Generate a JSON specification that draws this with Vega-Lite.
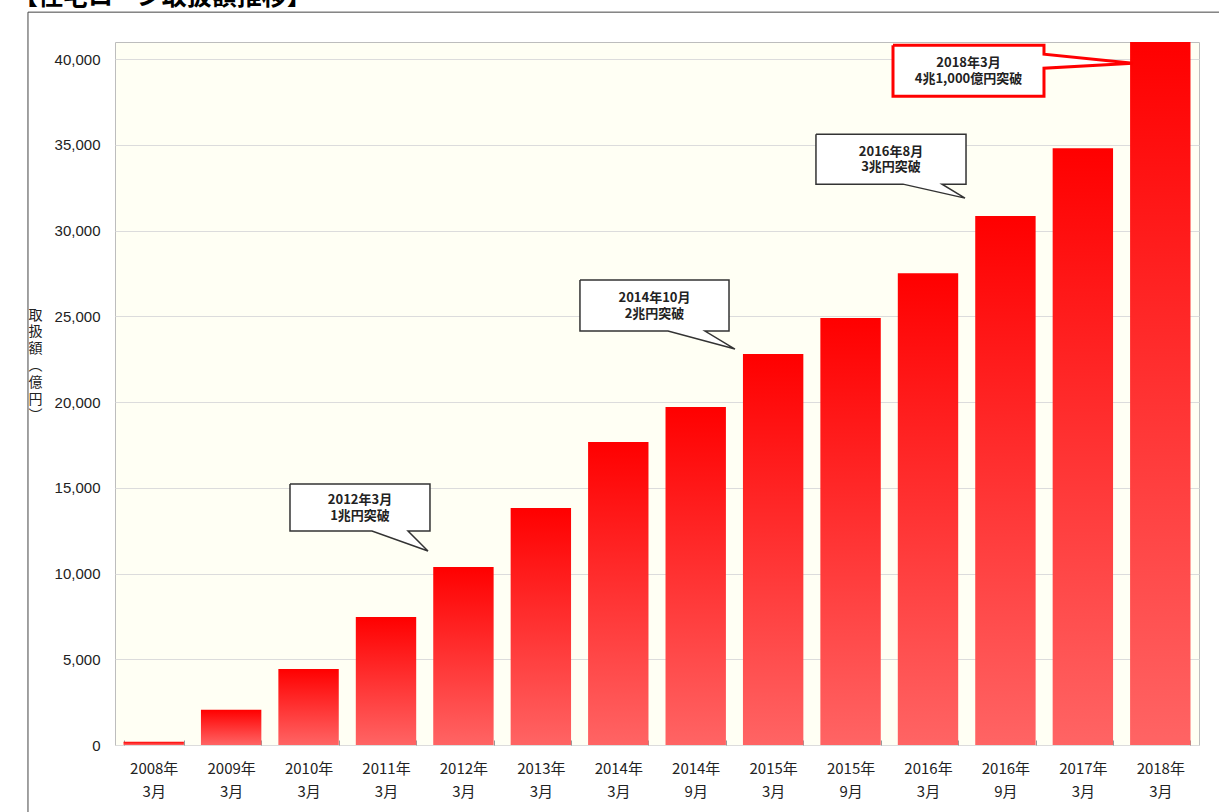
{
  "$schema": "https://vega.github.io/schema/vega-lite/v6.json",
  "width": 1084,
  "height": 703,
  "autosize": {"type": "none"},
  "padding": {"left": 115, "top": 42, "right": 20, "bottom": 67},
  "background": "#FFFFFF",
  "config": {
    "view": {"fill": "#FFFFF4", "stroke": "#BDBDBD", "strokeWidth": 1},
    "font": "Noto Sans CJK JP",
    "axisY": {
      "domain": false,
      "ticks": false,
      "grid": true,
      "gridColor": "#DCDCDC",
      "gridWidth": 1,
      "labelPadding": 15,
      "labelFontSize": 15,
      "labelFont": "Liberation Sans",
      "labelColor": "#222222",
      "labelExpr": "format(datum.value, ',')",
      "titleAngle": 0,
      "titleX": -80,
      "titleY": 266,
      "titleAlign": "center",
      "titleBaseline": "top",
      "titleFontSize": 14,
      "titleFontWeight": "normal",
      "titleLineHeight": 16.8,
      "titleColor": "#222222",
      "titleFont": "Noto Sans CJK JP"
    }
  },
  "datasets": {
    "bars": [
      {"period": "2008年3月", "value": 190},
      {"period": "2009年3月", "value": 2050},
      {"period": "2010年3月", "value": 4430},
      {"period": "2011年3月", "value": 7460},
      {"period": "2012年3月", "value": 10380},
      {"period": "2013年3月", "value": 13820},
      {"period": "2014年3月", "value": 17670},
      {"period": "2014年9月", "value": 19710},
      {"period": "2015年3月", "value": 22800},
      {"period": "2015年9月", "value": 24900},
      {"period": "2016年3月", "value": 27520},
      {"period": "2016年9月", "value": 30850},
      {"period": "2017年3月", "value": 34810},
      {"period": "2018年3月", "value": 41000}
    ],
    "frame": [
      {"x1": -1.124, "x2": 16, "y1": 42741, "y2": -10000}
    ],
    "heading": [
      {"x": -1.317, "y": 43149, "label": "【住宅ローン取扱額推移】"}
    ],
    "bubbles": [
      {"id": 1, "i": 0, "ax": 2.260, "ay": 15219},
      {"id": 1, "i": 1, "ax": 4.068, "ay": 15219},
      {"id": 1, "i": 2, "ax": 4.068, "ay": 12478},
      {"id": 1, "i": 3, "ax": 3.784, "ay": 12478},
      {"id": 1, "i": 4, "ax": 4.042, "ay": 11312},
      {"id": 1, "i": 5, "ax": 3.319, "ay": 12478},
      {"id": 1, "i": 6, "ax": 2.260, "ay": 12478},
      {"id": 1, "i": 7, "ax": 2.260, "ay": 15219},
      {"id": 2, "i": 0, "ax": 6.005, "ay": 27114},
      {"id": 2, "i": 1, "ax": 7.930, "ay": 27114},
      {"id": 2, "i": 2, "ax": 7.930, "ay": 24140},
      {"id": 2, "i": 3, "ax": 7.620, "ay": 24140},
      {"id": 2, "i": 4, "ax": 8.007, "ay": 23090},
      {"id": 2, "i": 5, "ax": 7.142, "ay": 24140},
      {"id": 2, "i": 6, "ax": 6.005, "ay": 24140},
      {"id": 2, "i": 7, "ax": 6.005, "ay": 27114},
      {"id": 3, "i": 0, "ax": 9.053, "ay": 35627},
      {"id": 3, "i": 1, "ax": 10.991, "ay": 35627},
      {"id": 3, "i": 2, "ax": 10.991, "ay": 32711},
      {"id": 3, "i": 3, "ax": 10.681, "ay": 32711},
      {"id": 3, "i": 4, "ax": 10.978, "ay": 31895},
      {"id": 3, "i": 5, "ax": 10.177, "ay": 32711},
      {"id": 3, "i": 6, "ax": 9.053, "ay": 32711},
      {"id": 3, "i": 7, "ax": 9.053, "ay": 35627}
    ],
    "bubbleRed": [
      {"id": 4, "i": 0, "ax": 10.048, "ay": 40816},
      {"id": 4, "i": 1, "ax": 11.998, "ay": 40816},
      {"id": 4, "i": 2, "ax": 11.998, "ay": 40292},
      {"id": 4, "i": 3, "ax": 13.147, "ay": 39767},
      {"id": 4, "i": 4, "ax": 11.998, "ay": 39475},
      {"id": 4, "i": 5, "ax": 11.998, "ay": 37843},
      {"id": 4, "i": 6, "ax": 10.048, "ay": 37843},
      {"id": 4, "i": 7, "ax": 10.048, "ay": 40816}
    ],
    "notes": [
      {"ax": 3.164, "ay": 13848, "label": "2012年3月\n1兆円突破"},
      {"ax": 6.968, "ay": 25627, "label": "2014年10月\n2兆円突破"},
      {"ax": 10.022, "ay": 34169, "label": "2016年8月\n3兆円突破"},
      {"ax": 11.023, "ay": 39329, "label": "2018年3月\n4兆1,000億円突破"}
    ]
  },
  "layer": [
    {
      "data": {"name": "bars"},
      "mark": {
        "type": "bar",
        "color": {
          "gradient": "linear",
          "x1": 0, "y1": 0, "x2": 0, "y2": 1,
          "stops": [
            {"offset": 0, "color": "#FF0000"},
            {"offset": 1, "color": "#FF6464"}
          ]
        }
      },
      "encoding": {
        "x": {
          "field": "period",
          "type": "nominal",
          "sort": null,
          "scale": {"paddingInner": 0.22, "paddingOuter": 0.11},
          "axis": {
            "title": null,
            "labelAngle": 0,
            "domain": false,
            "grid": false,
            "ticks": true,
            "tickBand": "extent",
            "tickSize": -5,
            "tickColor": "#999999",
            "labelPadding": 21,
            "labelFontSize": 15,
            "labelColor": "#222222",
            "labelBaseline": "top",
            "labelLineHeight": 23,
            "labelFont": "Noto Sans CJK JP",
            "labelExpr": "isString(datum.value) && indexof(datum.value, '年') > 0 ? [split(datum.value, '年')[0] + '年', split(datum.value, '年')[1]] : ''"
          }
        },
        "y": {
          "field": "value",
          "type": "quantitative",
          "scale": {"domain": [0, 41000], "nice": false, "zero": true},
          "axis": {
            "values": [0, 5000, 10000, 15000, 20000, 25000, 30000, 35000, 40000],
            "title": ["取", "扱", "額", "︵", "億", "円", "︶"]
          }
        }
      }
    },
    {
      "data": {"name": "frame"},
      "mark": {"type": "rect", "filled": false, "stroke": "#444444", "strokeWidth": 1},
      "encoding": {
        "x": {"field": "x1", "type": "quantitative", "scale": {"domain": [0, 14], "nice": false, "zero": false}, "axis": null},
        "x2": {"field": "x2"},
        "y": {"field": "y1", "type": "quantitative", "scale": {"domain": [0, 41000], "nice": false}},
        "y2": {"field": "y2"}
      }
    },
    {
      "data": {"name": "heading"},
      "mark": {"type": "text", "align": "left", "baseline": "alphabetic", "fontSize": 25, "fontWeight": "bold", "font": "Noto Sans CJK JP", "color": "#000000"},
      "encoding": {
        "x": {"field": "x", "type": "quantitative", "scale": {"domain": [0, 14], "nice": false, "zero": false}, "axis": null},
        "y": {"field": "y", "type": "quantitative", "scale": {"domain": [0, 41000], "nice": false}},
        "text": {"field": "label"}
      }
    },
    {
      "data": {"name": "bubbles"},
      "mark": {"type": "line", "fill": "#FFFFFF", "stroke": "#333333", "strokeWidth": 1.5, "strokeJoin": "miter", "interpolate": "linear"},
      "encoding": {
        "x": {"field": "ax", "type": "quantitative", "scale": {"domain": [0, 14], "nice": false, "zero": false}, "axis": null},
        "y": {"field": "ay", "type": "quantitative", "scale": {"domain": [0, 41000], "nice": false}},
        "detail": {"field": "id"},
        "order": {"field": "i"}
      }
    },
    {
      "data": {"name": "bubbleRed"},
      "mark": {"type": "line", "fill": "#FFFFFF", "stroke": "#FF0000", "strokeWidth": 3, "strokeJoin": "miter", "interpolate": "linear"},
      "encoding": {
        "x": {"field": "ax", "type": "quantitative", "scale": {"domain": [0, 14], "nice": false, "zero": false}, "axis": null},
        "y": {"field": "ay", "type": "quantitative", "scale": {"domain": [0, 41000], "nice": false}},
        "detail": {"field": "id"},
        "order": {"field": "i"}
      }
    },
    {
      "data": {"name": "notes"},
      "mark": {"type": "text", "align": "center", "baseline": "middle", "dy": -7.5, "lineBreak": "\n", "lineHeight": 15.5, "fontSize": 13, "fontWeight": "bold", "font": "Noto Sans CJK JP", "color": "#222222"},
      "encoding": {
        "x": {"field": "ax", "type": "quantitative", "scale": {"domain": [0, 14], "nice": false, "zero": false}, "axis": null},
        "y": {"field": "ay", "type": "quantitative", "scale": {"domain": [0, 41000], "nice": false}},
        "text": {"field": "label"}
      }
    }
  ],
  "resolve": {"scale": {"x": "independent"}}
}
